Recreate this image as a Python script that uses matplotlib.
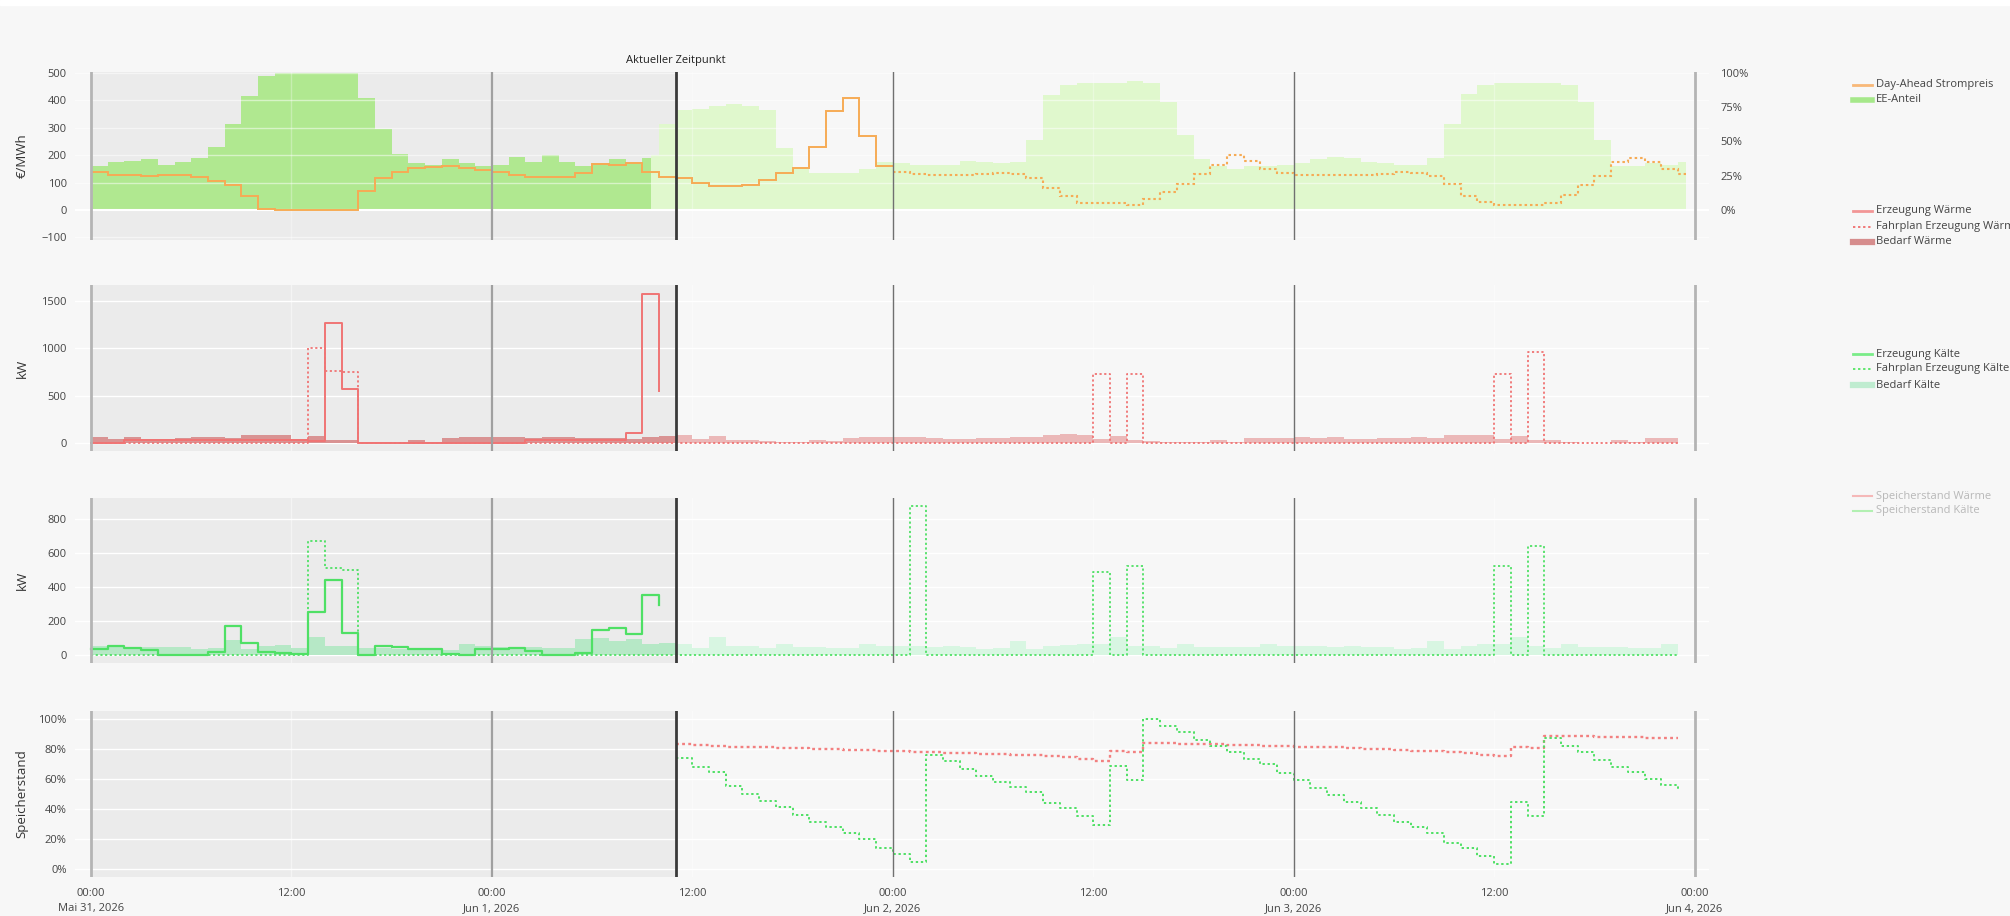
import numpy as np
import matplotlib.pyplot as plt
from matplotlib.lines import Line2D
from matplotlib.patches import Rectangle

plt.rcParams['font.family'] = ['Open Sans', 'DejaVu Sans']

## Zeitachse in Stunden ab 31.05.2026 00:00
T_NOW = 35          # Aktueller Zeitpunkt
T_EE_SPLIT = 33.5   # Ende der EE-Istwerte
T_PRICE_SPLIT = 48  # Day-Ahead bekannt bis hier
T_END = 95.5

x_ticks = [0, 12, 24, 36, 48, 60, 72, 84, 96]
x_tick_labels = ['00:00\nMai 31, 2026', '12:00', '00:00\nJun 1, 2026', '12:00',
                 '00:00\nJun 2, 2026', '12:00', '00:00\nJun 3, 2026', '12:00',
                 '00:00\nJun 4, 2026']

## Day-Ahead Strompreis (€/MWh), stündlich h0..h95
price = [140, 128, 128, 125, 128, 128, 120, 104, 92, 50, 2, 0, 0, 0, 0, 0, 70, 115, 140, 152, 158, 160, 152, 146,
         140, 128, 122, 122, 122, 134, 168, 165, 170, 140, 122, 116, 98, 89, 88, 91, 110, 134, 152, 230, 360, 410, 270, 160,
         140, 130, 128, 128, 128, 130, 134, 132, 115, 82, 50, 25, 25, 25, 20, 40, 65, 95, 130, 165, 200, 180, 150, 135,
         128, 126, 126, 126, 128, 130, 138, 134, 125, 95, 50, 30, 20, 18, 18, 25, 55, 90, 125, 175, 190, 175, 150, 132]

## EE-Anteil (%)
ee_ist = [32, 35, 36, 37, 33, 35, 38, 46, 63, 83, 98, 100, 100, 100, 100, 100, 82, 59, 41, 34, 33, 37, 34, 32,
          33, 39, 35, 40, 35, 32, 34, 37, 34, 38]
ee_prog = [40, 63,
           73, 74, 76, 77, 76, 73, 45, 30, 27, 27, 27, 30, 35,
           34, 33, 33, 33, 36, 35, 34, 35, 51, 84, 91, 93, 93, 93, 94, 93, 79, 55, 37, 32, 30, 32, 32, 33,
           34, 37, 39, 38, 35, 34, 33, 33, 38, 63, 85, 91, 93, 93, 93, 93, 91, 79, 51, 32, 32, 34, 33, 35]

## Wärme (kW)
waerme_erz = [0, 0, 28, 28, 28, 28, 28, 28, 28, 28, 28, 28, 28, 18, 1270, 570, 0, 0, 0, 0, 0, 0, 0, 0,
              0, 0, 35, 35, 35, 35, 35, 35, 110, 1570, 550]
waerme_fahrplan = [0, 0, 0, 0, 0, 0, 0, 0, 0, 0, 0, 0, 0, 1000, 760, 750, 0, 0, 0, 0, 0, 0, 0, 0,
                   0, 0, 0, 0, 0, 0, 0, 0, 0, 0, 0, 0, 0, 0, 0, 0, 0, 0, 0, 0, 0, 0, 0, 0,
                   0, 0, 0, 0, 0, 0, 0, 0, 0, 0, 0, 0, 730, 0, 730, 0, 0, 0, 0, 0, 0, 0, 0, 0,
                   0, 0, 0, 0, 0, 0, 0, 0, 0, 0, 0, 0, 730, 0, 960, 0, 0, 0, 0, 0, 0, 0, 0, 0]
waerme_bedarf_ist = [63, 46, 63, 46, 46, 53, 63, 63, 53, 81, 88, 81, 39, 74, 28, 28, 10, 7, 4, 28, 10, 56, 63, 63,
                     63, 63, 56, 63, 63, 53, 53, 53, 46, 60, 70]
waerme_bedarf_prog = [81, 39, 74, 35, 35, 21, 10, 10, 28, 18, 53, 63, 63,
                      63, 63, 53, 46, 46, 53, 53, 63, 63, 88, 99, 81, 39, 74, 28, 18, 7, 7, 7, 28, 10, 56, 56, 56,
                      63, 53, 63, 46, 46, 53, 53, 63, 53, 81, 88, 81, 39, 74, 28, 28, 10, 4, 4, 28, 10, 53, 53]

## Kälte (kW)
kaelte_erz = [35, 53, 43, 30, 0, 0, 0, 20, 171, 73, 16, 10, 4, 251, 442, 132, 0, 53, 49, 35, 35, 8, 0, 33,
              35, 43, 25, 0, 0, 14, 147, 161, 122, 350, 295]
kaelte_fahrplan = [0, 0, 0, 0, 0, 0, 0, 0, 0, 0, 0, 0, 0, 670, 510, 500, 0, 0, 0, 0, 0, 0, 0, 0,
                   0, 0, 0, 0, 0, 0, 0, 0, 0, 0, 0, 0, 0, 0, 0, 0, 0, 0, 0, 0, 0, 0, 0, 0,
                   0, 874, 0, 0, 0, 0, 0, 0, 0, 0, 0, 0, 487, 0, 521, 0, 0, 0, 0, 0, 0, 0, 0, 0,
                   0, 0, 0, 0, 0, 0, 0, 0, 0, 0, 0, 0, 521, 0, 639, 0, 0, 0, 0, 0, 0, 0, 0, 0]
kaelte_bedarf_ist = [53, 49, 43, 49, 49, 45, 33, 43, 88, 33, 55, 61, 39, 108, 55, 55, 43, 39, 35, 35, 35, 29, 63, 55,
                     49, 49, 49, 43, 43, 92, 102, 84, 94, 65, 73]
kaelte_bedarf_prog = [63, 39, 108, 55, 55, 43, 63, 49, 45, 43, 39, 63, 55,
                      55, 55, 49, 53, 49, 35, 39, 84, 35, 55, 59, 63, 63, 108, 55, 55, 43, 63, 49, 45, 45, 45, 63, 55,
                      55, 55, 49, 53, 49, 49, 35, 39, 84, 35, 55, 63, 63, 108, 55, 43, 63, 49, 45, 45, 43, 39, 65]

## Speicherstand (%), h35..h95
speicher_waerme = [83.3, 82.4, 82.0, 81.6, 81.3, 81.0, 80.7, 80.4, 80.1, 79.8, 79.5, 79.2, 78.9, 78.6, 78.2,
                   77.9, 77.6, 77.3, 76.9, 76.5, 76.1, 75.7, 75.2, 74.6, 73.5, 72.2, 78.4, 78.0,
                   83.9, 83.7, 83.5, 83.3, 83.1, 82.9, 82.6, 82.3, 82.0, 81.6, 81.3, 81.0, 80.6, 80.2, 79.8, 79.4,
                   78.9, 78.4, 77.8, 77.1, 76.2, 75.1,
                   81.2, 80.6, 88.8, 88.6, 88.4, 88.2, 88.0, 87.8, 87.6, 87.4, 87.1]
speicher_kaelte = [73.8, 68.2, 64.9, 55.3, 50.0, 45.6, 41.6, 36.0, 31.6, 27.8, 23.8, 20.0, 14.2, 9.8, 4.4,
                   76.0, 72.0, 66.7, 62.2, 58.2, 54.9, 51.6, 43.8, 40.4, 35.3, 29.3, 68.7, 59.3,
                   100.0, 95.6, 91.1, 86.0, 82.2, 78.2, 73.3, 69.8, 64.2, 59.3, 54.2, 49.3, 44.9, 40.4, 36.0, 31.6,
                   28.2, 23.8, 17.1, 13.8, 8.9, 3.3,
                   44.9, 35.3, 87.1, 82.0, 78.2, 72.7, 68.2, 64.4, 59.8, 56.0, 52.7]

BG = '#f7f7f7'
SHADE = '#ebebeb'
TXT = '#444444'
ORANGE = '#f6ab55'
RED = '#f07474'
GREEN = '#4fe065'
DOT = (0, (1.2, 1.4))

W, H = 2010, 916
fig = plt.figure(figsize=(W / 100, H / 100), dpi=100, facecolor=BG)
fig.add_artist(Rectangle((0, 1 - 5 / H), 1, 5 / H, transform=fig.transFigure, color='white', zorder=0))

def px_axes(top, bottom, left=75, right=1709):
    return fig.add_axes([left / W, 1 - bottom / H, (right - left) / W, (bottom - top) / H])

ax1 = px_axes(72, 240)
ax2 = px_axes(285, 451)
ax3 = px_axes(498, 663)
ax4 = px_axes(711, 877)
axes = [ax1, ax2, ax3, ax4]

# EE-Anteil auf der rechten Achse, unterhalb des Preises
ax1b = ax1.twinx()
ax1.set_zorder(ax1b.get_zorder() + 1)
ax1.patch.set_visible(False)
ax1b.set_facecolor(BG)

def style(ax, shade=True):
    ax.set_facecolor(BG)
    for s in ax.spines.values():
        s.set_visible(False)
    ax.set_xlim(-0.96, 96.86)
    ax.set_xticks(x_ticks)
    ax.tick_params(length=0, labelsize=8, labelcolor=TXT, pad=6)
    ax.grid(True, axis='y', color='white', lw=1)
    ax.grid(True, axis='x', color='white', lw=1, alpha=0.45)
    ax.set_axisbelow(True)
    if shade:
        ax.axvspan(0, T_NOW, color=SHADE, zorder=0.1, lw=0)

def vlines(ax):
    ax.axvline(0, color='#b4b4b4', lw=2, zorder=5)
    ax.axvline(24, color='#a0a0a0', lw=1.6, zorder=5)
    ax.axvline(T_NOW, color='#3a3a3a', lw=2, zorder=5)
    ax.axvline(48, color='#707070', lw=1, zorder=5)
    ax.axvline(72, color='#707070', lw=1, zorder=5)
    ax.axvline(96, color='#b4b4b4', lw=2, zorder=5)

for ax in [ax2, ax3, ax4]:
    style(ax)
style(ax1b)
ax1b.grid(False)
style(ax1, shade=False)
ax1.grid(True, axis='y', color='white', lw=1, alpha=0.5)
ax1.grid(True, axis='x', color='white', lw=1, alpha=0.3)

hours = np.arange(96)

# --- Panel 1: Preis + EE-Anteil
ee_ist_edges = np.append(np.arange(len(ee_ist)), T_EE_SPLIT)
ee_prog_edges = np.concatenate([[T_EE_SPLIT], np.arange(34, 96), [T_END]])
ax1b.stairs(ee_ist, ee_ist_edges, fill=True, baseline=0, color='#b0e890', lw=0, zorder=1)
ax1b.stairs(ee_prog, ee_prog_edges, fill=True, baseline=0, color='#e0f8cd', lw=0, zorder=1)
ax1b.set_ylim(-21.9, 100.7)
ax1b.set_yticks([0, 25, 50, 75, 100])
ax1b.set_yticklabels(['0%', '25%', '50%', '75%', '100%'])
ax1b.tick_params(axis='y', pad=8)
ax1b.tick_params(axis='x', labelbottom=False)

p_solid_edges = np.arange(T_PRICE_SPLIT + 1)
p_dot_edges = np.append(np.arange(T_PRICE_SPLIT, 96), T_END)
ax1.stairs(price[:T_PRICE_SPLIT], p_solid_edges, baseline=None, color=ORANGE, lw=1.4, zorder=4)
ax1.stairs(price[T_PRICE_SPLIT:], p_dot_edges, baseline=None, color=ORANGE, lw=1.5, ls=DOT, zorder=4)
ax1.axhline(0, color='white', lw=1.5, zorder=0.6)
ax1.set_ylim(-109.5, 503.6)
ax1.set_yticks(range(-100, 501, 100))
vlines(ax1)
ax1.text(T_NOW, 1.035, 'Aktueller Zeitpunkt', transform=ax1.get_xaxis_transform(),
         ha='center', va='bottom', fontsize=8, color='#222222')

# --- Panel 2: Wärme
ax2.stairs(waerme_bedarf_ist, np.arange(len(waerme_bedarf_ist) + 1), fill=True, baseline=0,
           color='#d99393', lw=0, zorder=2)
ax2.stairs(waerme_bedarf_prog, np.arange(T_NOW, T_NOW + len(waerme_bedarf_prog) + 1), fill=True, baseline=0,
           color='#ebb8b8', lw=0, zorder=2)
ax2.plot(hours, waerme_fahrplan, drawstyle='steps-post', color=RED, lw=1.3, ls=DOT, zorder=3)
ax2.plot(np.arange(len(waerme_erz)), waerme_erz, drawstyle='steps-post', color=RED, lw=1.4, zorder=4)
ax2.set_ylim(-84, 1666)
ax2.set_yticks([0, 500, 1000, 1500])
vlines(ax2)

# --- Panel 3: Kälte
ax3.stairs(kaelte_bedarf_ist, np.arange(len(kaelte_bedarf_ist) + 1), fill=True, baseline=0,
           color='#b6e8c6', lw=0, zorder=2)
ax3.stairs(kaelte_bedarf_prog, np.arange(T_NOW, T_NOW + len(kaelte_bedarf_prog) + 1), fill=True, baseline=0,
           color='#d8f6e2', lw=0, zorder=2)
ax3.plot(hours, kaelte_fahrplan, drawstyle='steps-post', color=GREEN, lw=1.3, ls=DOT, zorder=3)
ax3.plot(np.arange(len(kaelte_erz)), kaelte_erz, drawstyle='steps-post', color=GREEN, lw=1.6, zorder=4)
ax3.set_ylim(-47, 923)
ax3.set_yticks([0, 200, 400, 600, 800])
vlines(ax3)

# --- Panel 4: Speicherstand
sp_hours = np.arange(T_NOW, T_NOW + len(speicher_waerme))
ax4.plot(sp_hours, speicher_waerme, drawstyle='steps-post', color='#f28080', lw=1.7, ls=DOT, zorder=4)
ax4.plot(sp_hours, speicher_kaelte, drawstyle='steps-post', color=GREEN, lw=1.4, ls=DOT, zorder=4)
ax4.set_ylim(-5.3, 105.3)
ax4.set_yticks([0, 20, 40, 60, 80, 100])
ax4.set_yticklabels(['0%', '20%', '40%', '60%', '80%', '100%'])
vlines(ax4)

for ax in [ax1, ax2, ax3]:
    ax.tick_params(axis='x', labelbottom=False)
ax4.set_xticklabels(x_tick_labels, linespacing=1.5)
ax4.tick_params(axis='x', pad=8)

# Achsentitel
for ax, label in [(ax1, '€/MWh'), (ax2, 'kW'), (ax3, 'kW'), (ax4, 'Speicherstand')]:
    b = ax.get_position()
    fig.text(22 / W, b.y0 + b.height / 2, label, rotation=90, ha='center', va='center',
             fontsize=9.5, color='#333333')

# Legenden
def legend_entry(y_px, label, color, lw=2, ls='-', text_color=TXT):
    yf = 1 - y_px / H
    fig.add_artist(Line2D([1853 / W, 1872 / W], [yf, yf], transform=fig.transFigure,
                          color=color, lw=lw, ls=ls))
    fig.text(1876 / W, yf, label, fontsize=8, color=text_color, va='center', ha='left')

legend_entry(84.5, 'Day-Ahead Strompreis', '#f8b878', lw=2)
legend_entry(100, 'EE-Anteil', '#a6e88a', lw=4)
legend_entry(211, 'Erzeugung Wärme', '#f29696', lw=2)
legend_entry(227, 'Fahrplan Erzeugung Wärme', '#f07878', lw=1.4, ls=DOT)
legend_entry(242, 'Bedarf Wärme', '#d68d8d', lw=4.5)
legend_entry(354, 'Erzeugung Kälte', '#7aec88', lw=2)
legend_entry(369, 'Fahrplan Erzeugung Kälte', '#5fe66d', lw=1.4, ls=DOT)
legend_entry(385, 'Bedarf Kälte', '#bfecd0', lw=4.5)
legend_entry(496, 'Speicherstand Wärme', '#f5b8b8', lw=1.5, text_color='#b8b8b8')
legend_entry(511, 'Speicherstand Kälte', '#b2f0b2', lw=1.5, text_color='#b8b8b8')

fig.savefig('out.png', dpi=100, facecolor=fig.get_facecolor())
